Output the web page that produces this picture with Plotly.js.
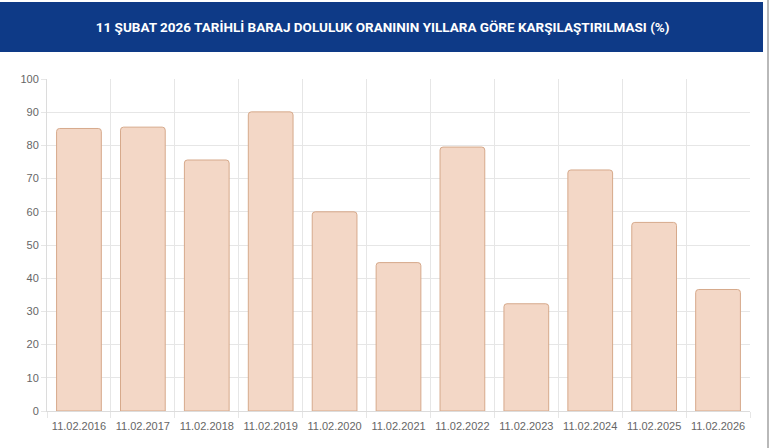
<!DOCTYPE html>
<html>
<head>
<meta charset="utf-8">
<script src="https://cdn.plot.ly/plotly-3.0.1.min.js"></script>
<style>
  html, body { margin: 0; padding: 0; background: #fff; }
  #chart { width: 770px; height: 448px; }
</style>
</head>
<body>
<div id="chart"></div>
<script>
// dam fill ratios on 11 Feb, by year (%)
const dates = ["11.02.2016","11.02.2017","11.02.2018","11.02.2019","11.02.2020","11.02.2021",
               "11.02.2022","11.02.2023","11.02.2024","11.02.2025","11.02.2026"];
const fillPct = [85.1, 85.5, 75.6, 90.1, 60.0, 44.7, 79.5, 32.3, 72.6, 56.8, 36.6];
const yTicks = [0, 10, 20, 30, 40, 50, 60, 70, 80, 90, 100];
const titleText = "11 ŞUBAT 2026 TARİHLİ BARAJ DOLULUK ORANININ YILLARA GÖRE KARŞILAŞTIRILMASI (%)";

const trace = {
  type: "bar", x: dates, y: fillPct,
  width: 0.7,
  marker: { color: "#f3d7c6", line: { color: "#d6a98b", width: 1 }, cornerradius: 3 },
  hoverinfo: "x+y"
};

const layout = {
  width: 770, height: 448,
  margin: { l: 47, r: 20, t: 79, b: 37 },
  paper_bgcolor: "#fff", plot_bgcolor: "#fff",
  showlegend: false,
  font: { family: "Liberation Sans, Arial, sans-serif", size: 11, color: "#666" },
  title: {
    text: "<b>" + titleText + "</b>",
    font: { family: "Roboto, sans-serif", size: 13.5, color: "#fff" },
    xref: "container", x: 0.497, xanchor: "center",
    yref: "container", y: 0.94, yanchor: "middle"
  },
  xaxis: {
    type: "category", tickson: "boundaries",
    showgrid: true, gridcolor: "#e6e6e6", gridwidth: 1,
    ticks: "outside", ticklen: 6, tickcolor: "#e6e6e6",
    ticklabelstandoff: 5,
    showline: true, linecolor: "#dcdcdc", mirror: false,
    tickfont: { size: 11, color: "#666" }, fixedrange: true
  },
  yaxis: {
    range: [0, 100], tickvals: yTicks,
    showgrid: true, gridcolor: "#e6e6e6", gridwidth: 1,
    zeroline: false, showline: true, linecolor: "#dcdcdc",
    ticks: "outside", ticklen: 5, tickcolor: "#e6e6e6",
    tickfont: { size: 11, color: "#666" }, fixedrange: true
  },
  shapes: [
    // dark blue header band
    { type: "rect", xref: "paper", yref: "paper", x0: -0.0669, x1: 1.0185, y0: 1.0813, y1: 1.2319,
      fillcolor: "#0e3a87", line: { width: 0 }, layer: "below" },
    // grey panel border on the right
    { type: "line", xref: "paper", yref: "paper", x0: 1.0256, x1: 1.0256, y0: -0.12, y1: 1.24,
      line: { color: "#b9b9b9", width: 2 } }
  ]
};

Plotly.newPlot("chart", [trace], layout, { displayModeBar: false, staticPlot: true });
</script>
</body>
</html>
